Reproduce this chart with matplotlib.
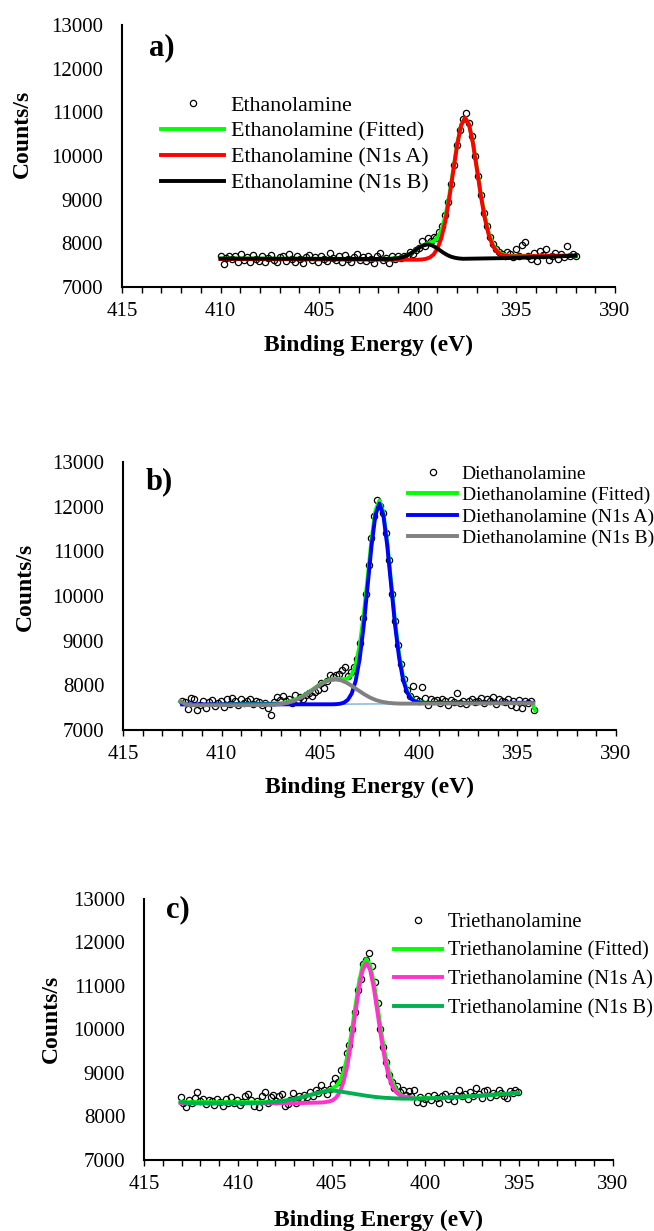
import matplotlib
matplotlib.use("Agg")
import matplotlib.pyplot as plt
import numpy as np
from matplotlib.ticker import MultipleLocator

plt.rcParams["font.family"] = ["Liberation Serif", "DejaVu Serif"]

# ---------------- a) Ethanolamine ----------------
energy_a = np.linspace(410.0, 392.0, 121)
counts_a = [
    7700, 7520, 7660, 7720, 7640, 7700, 7580, 7760, 7620, 7690,
    7560, 7740, 7650, 7600, 7700, 7580, 7660, 7730, 7620, 7560,
    7680, 7710, 7600, 7760, 7640, 7580, 7700, 7650, 7540, 7690,
    7740, 7620, 7680, 7560, 7710, 7640, 7600, 7780, 7660, 7620,
    7700, 7580, 7730, 7650, 7560, 7690, 7760, 7620, 7680, 7600,
    7720, 7640, 7550, 7700, 7780, 7620, 7660, 7540, 7700, 7640,
    7700, 7660, 7720, 7700, 7790, 7760, 7850, 7900, 8050, 7940,
    8110, 8060, 8150, 8120, 8250, 8400, 8650, 8950, 9350, 9800,
    10250, 10600, 10850, 10980, 10760, 10450, 10000, 9550, 9100, 8700,
    8400, 8150, 7980, 7880, 7810, 7760, 7720, 7800, 7750, 7680,
    7860, 7720, 7960, 8020, 7700, 7640, 7780, 7600, 7830, 7740,
    7880, 7620, 7700, 7780, 7650, 7760, 7680, 7930, 7700, 7760,
    7720,
]
fit_a_energy = [410.0, 402.0, 401.4, 401.2, 401.0, 400.8, 400.6, 400.4, 400.2, 400.0,
                399.8, 399.6, 399.4, 399.2, 399.0, 398.8, 398.6, 398.4, 398.2, 398.0,
                397.8, 397.6, 397.4, 397.2, 397.0, 396.8, 396.6, 396.4, 396.2, 396.0,
                395.8, 395.6, 395.4, 395.2, 392.1, 392.0]
fit_a = [7650, 7640, 7648, 7653, 7662, 7680, 7710, 7755, 7812, 7878,
         7935, 7980, 8010, 8045, 8130, 8305, 8623, 9102, 9690, 10275,
         10711, 10877, 10730, 10310, 9730, 9130, 8620, 8240, 7990, 7845,
         7770, 7735, 7718, 7712, 7720, 7695]
n1s_a_energy = [410.0, 402.0, 400.0, 399.8, 399.6, 399.4, 399.2, 399.0, 398.8, 398.6,
                398.4, 398.2, 398.0, 397.8, 397.6, 397.4, 397.2, 397.0, 396.8, 396.6,
                396.4, 396.2, 396.0, 395.8, 395.6, 395.4, 395.2, 392.0]
n1s_a = [7640, 7625, 7624, 7629, 7642, 7673, 7741, 7879, 8123, 8508,
         9034, 9653, 10257, 10703, 10874, 10717, 10285, 9693, 9085, 8568,
         8189, 7949, 7814, 7748, 7718, 7706, 7702, 7715]
n1s_b_energy = [410.0, 402.0, 401.3, 401.1, 400.9, 400.7, 400.5, 400.3, 400.1, 399.9,
                399.7, 399.5, 399.3, 399.1, 398.9, 398.7, 398.5, 398.3, 398.1, 397.9,
                397.7, 397.0, 395.0, 392.0]
n1s_b = [7650, 7640, 7645, 7652, 7666, 7691, 7730, 7784, 7847, 7908,
         7953, 7975, 7958, 7908, 7847, 7784, 7730, 7691, 7666, 7652,
         7645, 7650, 7665, 7715]

# ---------------- b) Diethanolamine ----------------
energy_b = np.linspace(412.0, 394.15, 120)
counts_b = [
    7650, 7620, 7480, 7720, 7690, 7450, 7560, 7640, 7500, 7620,
    7680, 7540, 7600, 7660, 7520, 7700, 7580, 7720, 7640, 7560,
    7690, 7600, 7660, 7700, 7580, 7640, 7620, 7550, 7600, 7500,
    7340, 7620, 7740, 7680, 7760, 7640, 7700, 7600, 7780, 7680,
    7740, 7700, 7780, 7820, 7760, 7860, 7900, 8060, 7940, 8100,
    8220, 8180, 8240, 8260, 8340, 8400, 8200, 8300, 8420, 8600,
    8950, 9500, 10050, 10700, 11300, 11800, 12150, 12020, 11850, 11420,
    10800, 10050, 9450, 8900, 8480, 8150, 7900, 7760, 7980, 7700,
    7650, 7960, 7720, 7550, 7700, 7640, 7680, 7600, 7700, 7640,
    7560, 7680, 7620, 7820, 7600, 7660, 7580, 7640, 7700, 7620,
    7660, 7720, 7600, 7700, 7640, 7740, 7580, 7700, 7660, 7620,
    7700, 7560, 7660, 7520, 7680, 7500, 7640, 7600, 7660, 7450,
]
fit_b_energy = [412.1, 411.9, 411.7, 411.5, 407.0, 406.6, 406.2, 406.0, 405.8, 405.6,
                405.4, 405.2, 405.0, 404.8, 404.6, 404.4, 404.2, 404.0, 403.8, 403.6,
                403.4, 403.2, 403.0, 402.8, 402.6, 402.4, 402.2, 402.0, 401.8, 401.6,
                401.4, 401.2, 401.0, 400.8, 400.6, 400.4, 400.2, 400.0, 399.6, 394.25,
                394.1]
fit_b = [7640, 7590, 7565, 7558, 7597, 7631, 7691, 7734, 7784, 7841,
         7903, 7966, 8025, 8076, 8115, 8140, 8148, 8142, 8135, 8154,
         8241, 8463, 8891, 9549, 10390, 11253, 11908, 12139, 11880, 11200,
         10300, 9420, 8700, 8200, 7890, 7725, 7650, 7620, 7608, 7605,
         7440]
n1s_a_b_energy = [412.0, 404.4, 404.2, 404.0, 403.8, 403.6, 403.4, 403.2, 403.0, 402.8,
                  402.6, 402.4, 402.2, 402.0, 401.8, 401.6, 401.4, 401.2, 401.0, 400.8,
                  400.6, 400.4, 400.2, 400.0, 399.8, 399.6, 394.2]
n1s_a_b = [7572, 7575, 7578, 7587, 7611, 7675, 7818, 8102, 8592, 9310,
           10205, 11114, 11808, 12069, 11814, 11126, 10222, 9331, 8617, 8130,
           7847, 7705, 7641, 7617, 7608, 7605, 7610]
n1s_b_b_energy = [412.1, 411.8, 411.5, 407.85, 407.55, 407.25, 406.95, 406.65, 406.35, 406.05,
                  405.75, 405.45, 405.15, 404.85, 404.55, 404.25, 403.95, 403.65, 403.35, 403.05,
                  402.75, 402.45, 402.15, 401.85, 401.55, 401.25, 400.95, 400.65, 394.2]
n1s_b_b = [7640, 7570, 7555, 7558, 7561, 7569, 7583, 7609, 7648, 7706,
           7783, 7873, 7968, 8052, 8111, 8133, 8113, 8056, 7974, 7882,
           7795, 7721, 7666, 7630, 7608, 7596, 7591, 7590, 7600]
background_b_energy = [412.0, 394.2]
background_b = [7562, 7600]

# ---------------- c) Triethanolamine ----------------
energy_c = np.linspace(413.05, 395.05, 121)
counts_c = [
    8450, 8320, 8220, 8380, 8300, 8420, 8570, 8360, 8400, 8280,
    8380, 8350, 8260, 8400, 8330, 8250, 8400, 8320, 8440, 8300,
    8380, 8270, 8330, 8460, 8520, 8390, 8250, 8360, 8210, 8480,
    8570, 8300, 8440, 8500, 8350, 8460, 8520, 8250, 8280, 8380,
    8540, 8300, 8460, 8420, 8500, 8440, 8560, 8470, 8620, 8530,
    8730, 8600, 8520, 8640, 8740, 8880, 8800, 9080, 9100, 9450,
    9650, 10000, 10400, 10900, 11150, 11500, 11600, 11750, 11450, 11100,
    10600, 10000, 9600, 9250, 8950, 8800, 8650, 8700, 8560, 8620,
    8500, 8580, 8470, 8620, 8340, 8450, 8300, 8400, 8460, 8380,
    8500, 8430, 8300, 8460, 8520, 8400, 8480, 8350, 8500, 8610,
    8480, 8520, 8400, 8560, 8460, 8650, 8520, 8420, 8580, 8600,
    8450, 8550, 8500, 8600, 8540, 8480, 8420, 8580, 8550, 8600,
    8560,
]
fit_c_energy = [413.05, 408.0, 407.0, 406.0, 405.5, 405.1, 404.95, 404.75, 404.55, 404.35,
                404.15, 403.95, 403.75, 403.55, 403.35, 403.15, 402.95, 402.75, 402.55, 402.35,
                402.15, 401.95, 401.75, 401.55, 401.35, 401.15, 400.95, 400.5, 399.0, 397.0,
                395.05]
fit_c = [8330, 8330, 8400, 8510, 8565, 8610, 8650, 8700, 8820, 9040,
         9400, 9890, 10480, 11050, 11470, 11620, 11480, 11080, 10520, 9930,
         9420, 9040, 8780, 8610, 8510, 8460, 8430, 8415, 8430, 8480,
         8545]
n1s_a_c_energy = [413.05, 410.0, 407.0, 405.5, 405.35, 405.15, 404.95, 404.75, 404.55, 404.35,
                  404.15, 403.95, 403.75, 403.55, 403.35, 403.15, 402.95, 402.75, 402.55, 402.35,
                  402.15, 401.95, 401.75, 401.55, 401.35, 401.15, 400.95, 400.75]
n1s_a_c = [8305, 8300, 8305, 8322, 8331, 8343, 8371, 8437, 8573, 8816,
           9198, 9717, 10324, 10917, 11356, 11525, 11376, 10954, 10379, 9787,
           9283, 8915, 8682, 8551, 8486, 8458, 8446, 8440]
n1s_b_c_energy = [413.05, 412.6, 411.0, 409.0, 408.0, 407.5, 407.0, 406.5, 406.0, 405.5,
                  405.1, 404.7, 404.2, 403.7, 403.2, 402.7, 402.2, 401.7, 401.2, 400.0,
                  399.0, 398.0, 397.0, 396.0, 395.05]
n1s_b_c = [8330, 8305, 8300, 8310, 8330, 8360, 8400, 8450, 8510, 8565,
           8600, 8585, 8550, 8515, 8480, 8450, 8430, 8418, 8410, 8412,
           8430, 8455, 8480, 8510, 8535]


fig = plt.figure(figsize=(6.54, 12.31), dpi=100)


def draw_panel(rect, energy, counts, curves, names, colors, tag, tag_xy,
               ylabel_xy, xlabel_y, legend_xy, legend_size, handle_len,
               text_pad, row_gap):
    ax = fig.add_axes(rect)
    ax.plot(energy, counts, linestyle="none", marker="o", markersize=4.5,
            mfc="none", mec="black", mew=0.9, label=names[0])
    for (e, v), name, color in zip(curves, names[1:], colors):
        ax.plot(e, v, color=color, lw=2.8, label=name)

    ax.set_xlim(415, 390)
    ax.set_ylim(7000, 13000)
    ax.xaxis.set_major_locator(MultipleLocator(5))
    ax.xaxis.set_minor_locator(MultipleLocator(1))
    ax.set_yticks(range(7000, 13001, 1000))
    for side in ("top", "right"):
        ax.spines[side].set_visible(False)
    for side in ("left", "bottom"):
        ax.spines[side].set_linewidth(1.5)
    ax.tick_params(axis="x", which="both", direction="out", length=4,
                   width=1.0, pad=7, labelsize=15)
    ax.tick_params(axis="y", length=0, pad=13.5, labelsize=15)

    ax.set_ylabel("Counts/s", fontsize=17, fontweight="bold", va="center", ha="center")
    ax.yaxis.set_label_coords(*ylabel_xy)
    ax.set_xlabel("Binding Energy (eV)", fontsize=17, fontweight="bold", va="center")
    ax.xaxis.set_label_coords(0.5, xlabel_y)

    ax.text(tag_xy[0], tag_xy[1], tag, transform=ax.transAxes, fontsize=22,
            fontweight="bold", ha="center", va="center")

    ax.legend(loc="upper left", bbox_to_anchor=legend_xy, frameon=False,
              fontsize=legend_size, handlelength=handle_len, handletextpad=text_pad,
              labelspacing=row_gap, borderpad=0, borderaxespad=0, numpoints=1)
    return ax


draw_panel([0.1865, 0.7669, 0.7538, 0.2128], energy_a, counts_a,
           [(fit_a_energy, fit_a), (n1s_a_energy, n1s_a), (n1s_b_energy, n1s_b)],
           ["Ethanolamine", "Ethanolamine (Fitted)", "Ethanolamine (N1s A)",
            "Ethanolamine (N1s B)"],
           ["#00FF00", "#FF0000", "#000000"],
           "a)", (0.081, 0.912), (-0.203, 0.584), -0.225,
           (0.079, 0.731), 15.8, 2.88, 0.3, 0.25)

ax_b = draw_panel([0.1881, 0.4070, 0.7538, 0.2177], energy_b, counts_b,
                  [(fit_b_energy, fit_b), (n1s_a_b_energy, n1s_a_b),
                   (n1s_b_b_energy, n1s_b_b)],
                  ["Diethanolamine", "Diethanolamine (Fitted)",
                   "Diethanolamine (N1s A)", "Diethanolamine (N1s B)"],
                  ["#00FF00", "#0000FF", "#808080"],
                  "b)", (0.073, 0.925), (-0.199, 0.534), -0.213,
                  (0.578, 0.989), 14, 2.53, 0.23, 0.2)
# thin background line under the diethanolamine fit
ax_b.plot(background_b_energy, background_b, color="#5B9BD5", lw=0.8, zorder=1.5)

draw_panel([0.2202, 0.0577, 0.7171, 0.2120], energy_c, counts_c,
           [(fit_c_energy, fit_c), (n1s_a_c_energy, n1s_a_c),
            (n1s_b_c_energy, n1s_b_c)],
           ["Triethanolamine", "Triethanolamine (Fitted)",
            "Triethanolamine (N1s A)", "Triethanolamine (N1s B)"],
           ["#00FF00", "#FF33CC", "#00B050"],
           "c)", (0.072, 0.958), (-0.197, 0.542), -0.23,
           (0.534, 0.947), 14.8, 2.31, 0.28, 0.45)

fig.savefig("out.png", dpi=100)
